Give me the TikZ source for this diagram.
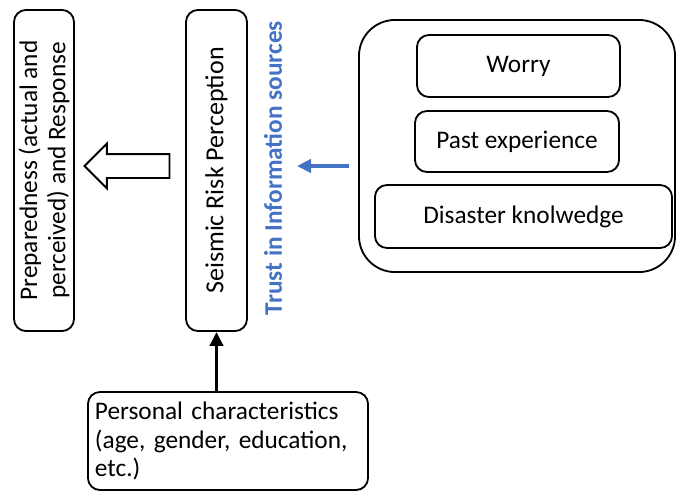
\documentclass[tikz,border=0pt]{standalone}
\usepackage{fontspec}
\setmainfont{Carlito}
\usetikzlibrary{shapes.arrows,arrows.meta}
\definecolor{trustblue}{HTML}{4472C4}

\begin{document}
\begin{tikzpicture}[x=0.025cm, y=-0.025cm,
            box/.style={draw, line width=1.3pt, rounded corners=0.3cm, align=center, inner sep=2pt, font=\fontsize{18}{20}\selectfont},
            fatarrow/.style={draw, line width=1.3pt, single arrow, shape border rotate=180, inner sep=0pt, inner ysep=0.275cm, single arrow head extend=0.26cm, minimum height=2.125cm},
            linkarrow/.style={line width=2.5pt, -{Triangle[length=0.35cm, width=0.33cm]}}]
            \useasboundingbox (0,0) rectangle (676,493);
            \node[box, rotate=90, minimum width=8.025cm, minimum height=1.5cm] (prep) at (44,170.5) {Preparedness (actual and\\perceived) and Response};
            \node[box, rotate=90, minimum width=8.025cm, minimum height=1.525cm, font=\fontsize{18.5}{21}\selectfont] (seis) at (216.5,170.5) {Seismic Risk Perception};
            \node[rotate=90, text=trustblue, font=\fontsize{18}{20}\selectfont\bfseries] (trust) at (273,168) {Trust in Information sources};
            \node[box, rounded corners=0.9cm, minimum width=7.9cm, minimum height=6.3cm] (frame) at (517,146) {};
            \node[box, minimum width=5.075cm, minimum height=1.55cm] (worry) at (518.5,66) {Worry};
            \node[box, minimum width=5.1cm, minimum height=1.525cm] (past) at (517,141.5) {Past experience};
            \node[box, minimum width=7.425cm, minimum height=1.575cm] (know) at (523.5,216.5) {Disaster knolwedge};
            \node[box, align=left, inner xsep=0.175cm, text width=6.65cm, minimum height=2.45cm] (pers) at (228,441) {Personal characteristics\\(age, gender, education,\\etc.)};
            \node[fatarrow] (fat) at (133,166) {};
            \coordinate (tip) at (297,166);
            \draw[linkarrow, trustblue, shorten <=0.225cm] (frame.west |- tip) -- (tip);
            \draw[linkarrow] (pers.north -| seis.west) -- (seis.west);
        \end{tikzpicture}
\end{document}
